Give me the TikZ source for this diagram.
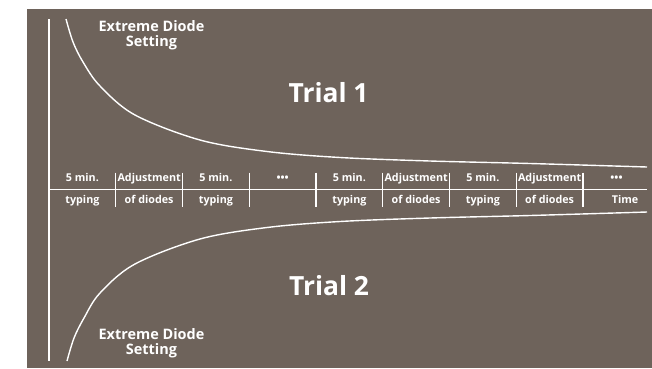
\documentclass[tikz,border=0pt]{standalone}
\usepackage{fontspec}
\setmainfont{Open Sans}
\usetikzlibrary{positioning}
\definecolor{taupe}{RGB}{110,99,91}

\begin{document}
\begin{tikzpicture}[
  x=1bp, y=-1bp,
  axis line/.style={draw=white, line width=1.5bp},
  tick line/.style={draw=white, line width=1.2bp},
  decay curve/.style={draw=white, line width=1.4bp},
  every node/.style={text=white, align=center, inner sep=0pt},
  trial/.style={font=\fontsize{26.5}{28}\selectfont\bfseries, anchor=base},
  setting/.style={font=\fontsize{14.5}{15}\selectfont\bfseries, anchor=base},
  cell/.style={font=\fontsize{10.8}{12}\selectfont\bfseries, anchor=base}
]
\useasboundingbox (0,0) rectangle (652,368);
\fill[taupe] (27,9) rectangle (652,368);

% axes
\coordinate (origin) at (49,189.5);
\coordinate (ytop) at (49,19);
\coordinate (ybot) at (49,361);
\coordinate (xend) at (647,189.5);
\draw[axis line] (ytop) -- (ybot);
\draw[axis line] (origin) -- (xend);

% column separators
\foreach \k in {1,...,8}
  \draw[tick line] (49+66.75*\k,172.5) -- (49+66.75*\k,207);

% column labels
\foreach \i/\upper/\lower in {0/5 min./typing, 1/Adjustment/of diodes,
    2/5 min./typing, 3/•••/{}, 4/5 min./typing, 5/Adjustment/of diodes,
    6/5 min./typing, 7/Adjustment/of diodes}
{
  \node[cell] (up\i) at (49+66.75*\i+33.4,181) {\upper};
  \node[cell] (low\i) at (49+66.75*\i+33.4,203) {\lower};
}
\node[cell] (up8) at (616.5,181) {•••};
\node[cell] (low8) at (625,203) {Time};

% trial 1 curve
\draw[decay curve] plot[smooth, tension=0.55] coordinates {
  (66,19) (73,42) (83,62) (100,86) (135,115) (200,140) (267,151.5)
  (340,157.5) (430,161) (530,163.5) (647,167)};
% trial 2 curve, mirrored about the time axis
\begin{scope}[shift={(0,379)}, yscale=-1]
\draw[decay curve] plot[smooth, tension=0.55] coordinates {
  (67,18) (74,41) (84,61) (100,86) (135,115) (200,140) (267,151.5)
  (340,157.5) (430,161) (530,163.5) (647,167)};
\end{scope}

% base anchor sits on the last line
\node[setting] (ext1) at (151.5,46.7) {Extreme Diode\\Setting};
\node[setting] (ext2) at (151.5,354) {Extreme Diode\\Setting};
\node[trial] (trial1) at (328.5,102.5) {Trial 1};
\node[trial] (trial2) at (329,295) {Trial 2};

\end{tikzpicture}
\end{document}
